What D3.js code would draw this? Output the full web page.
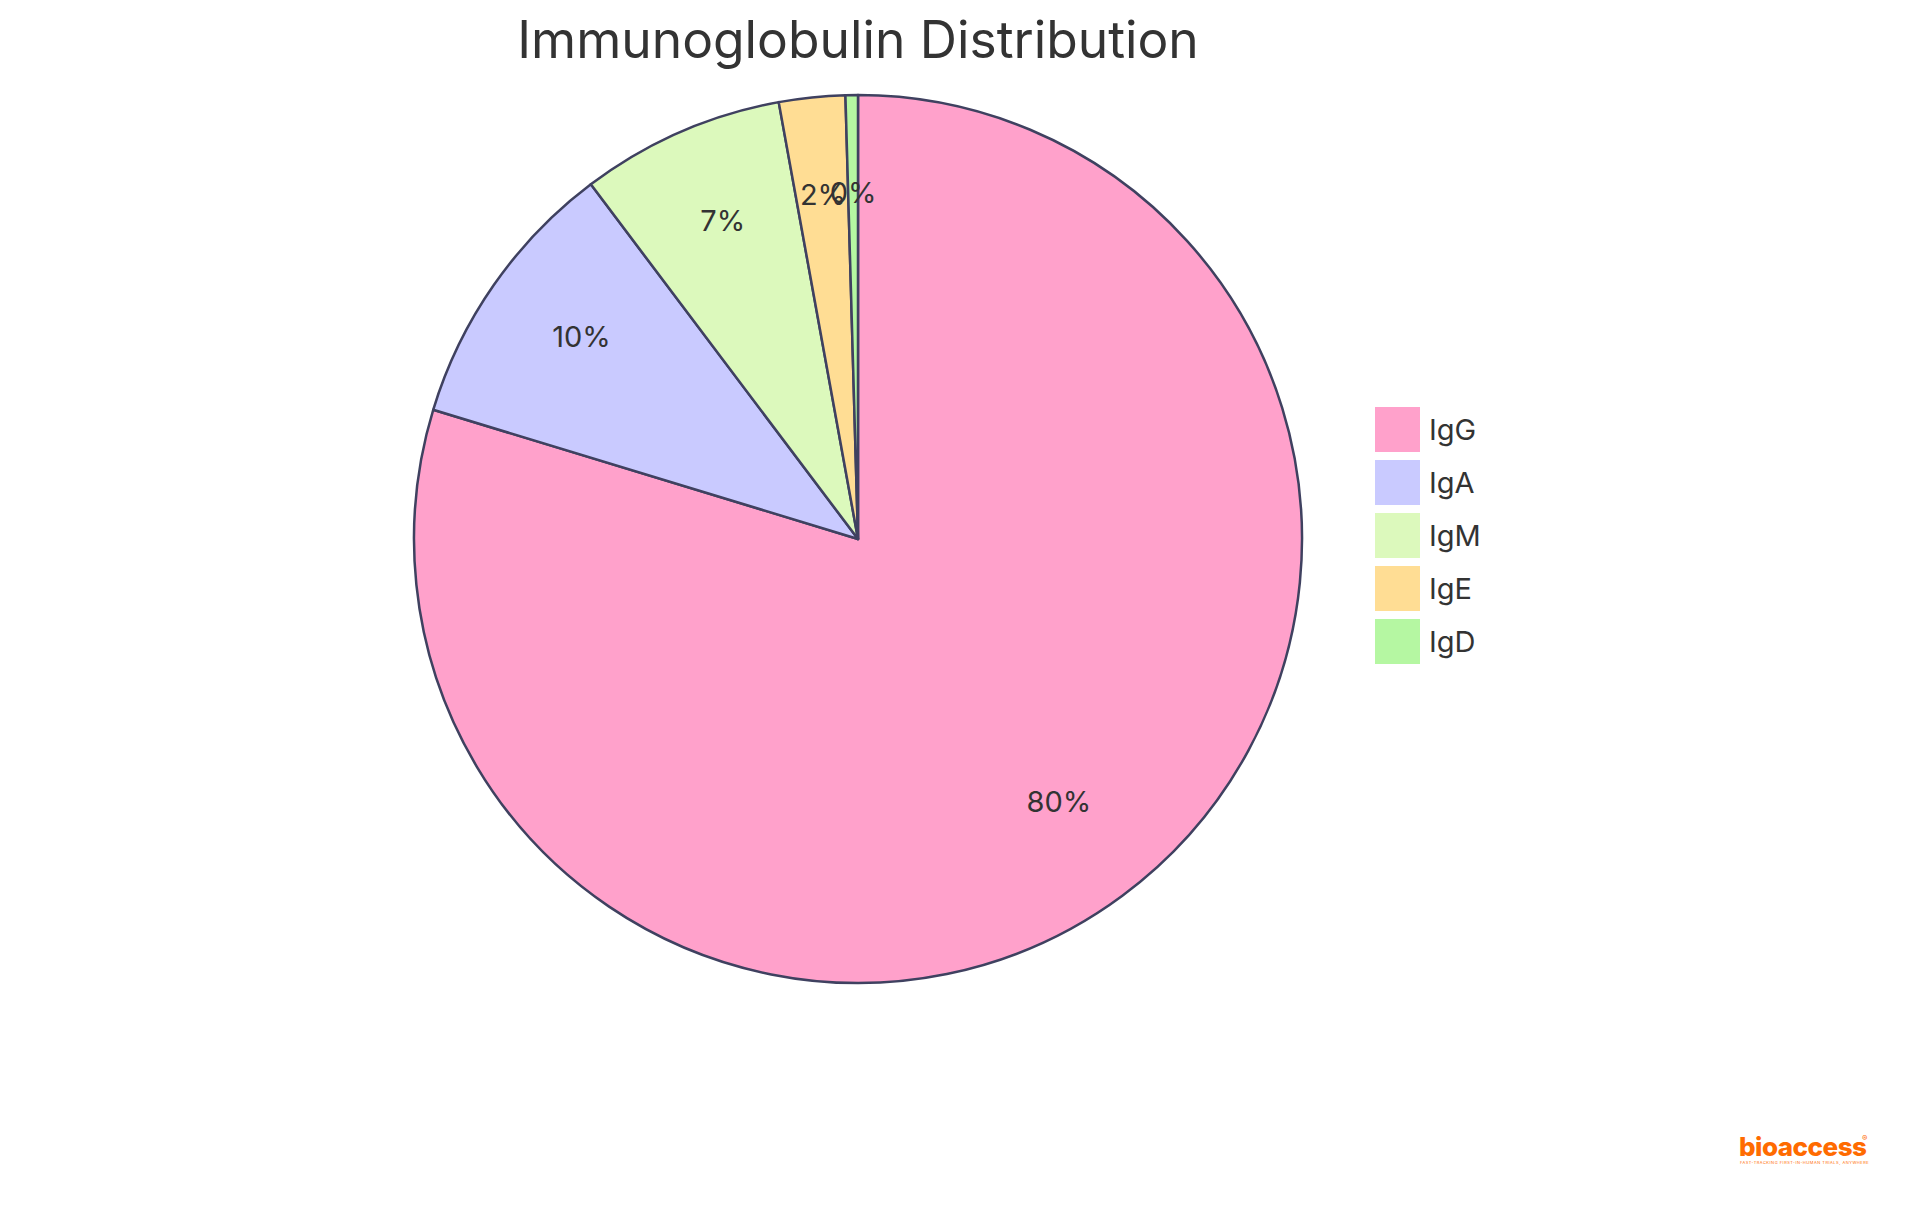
<!DOCTYPE html>
<html>
<head>
<meta charset="utf-8">
<script src="https://cdn.jsdelivr.net/npm/d3@7"></script>
<style>
  body { margin: 0; background: #fff; }
  text { font-family: Inter, "Open Sans", sans-serif; }
</style>
</head>
<body>
<div id="wrapper"></div>
<script>
const categories = ["IgG", "IgA", "IgM", "IgE", "IgD"];
const values = [79.5, 10, 7.4, 2.4, 0.45];
const colors = ["#FFA1CB", "#C9CAFF", "#DCF9BC", "#FFDD94", "#B5F7A2"];

const width = 1920, height = 1215;
const cx = 858, cy = 539, radius = 444;

const svg = d3.select("#wrapper").append("svg")
    .attr("width", width)
    .attr("height", height);

svg.append("text")
    .attr("x", cx)
    .attr("y", 58)
    .attr("text-anchor", "middle")
    .attr("font-size", 51.5)
    .attr("fill", "#333")
    .text("Immunoglobulin Distribution");

const data = categories.map((c, i) => ({ name: c, value: values[i], color: colors[i] }));
const total = d3.sum(values);

const pie = d3.pie().sort(null).value(d => d.value);
const arcs = pie(data);
const arc = d3.arc().innerRadius(0).outerRadius(radius);
const labelArc = d3.arc().innerRadius(radius * 0.76).outerRadius(radius * 0.76);

const g = svg.append("g").attr("transform", `translate(${cx},${cy})`);

g.selectAll("path")
    .data(arcs)
    .enter()
    .append("path")
    .attr("d", arc)
    .attr("fill", d => d.data.color)
    .attr("stroke", "#3f4160")
    .attr("stroke-width", 2.5)
    .attr("stroke-linejoin", "round");

const fmt = d3.format(".0%");
g.selectAll(".lbl")
    .data(arcs)
    .enter()
    .append("text")
    .attr("class", "lbl")
    .attr("transform", d => `translate(${labelArc.centroid(d)})`)
    .attr("text-anchor", "middle")
    .attr("dy", "0.05em")
    .attr("font-size", 29)
    .attr("fill", "#333")
    .text(d => fmt(d.data.value / total));

const legend = svg.append("g").attr("transform", "translate(1375,407)");
const rows = legend.selectAll("g")
    .data(data)
    .enter()
    .append("g")
    .attr("transform", (d, i) => `translate(0,${i * 53})`);
rows.append("rect")
    .attr("width", 45)
    .attr("height", 45)
    .attr("fill", d => d.color);
rows.append("text")
    .attr("x", 54)
    .attr("y", 23)
    .attr("dy", "0.35em")
    .attr("font-size", 29)
    .attr("fill", "#333")
    .text(d => d.name);

svg.append("text")
    .attr("x", 1739)
    .attr("y", 1156)
    .attr("font-size", 26)
    .attr("font-weight", 800)
    .attr("fill", "#FF6B00")
    .attr("letter-spacing", -0.5)
    .text("bioaccess");
svg.append("text")
    .attr("x", 1862)
    .attr("y", 1141)
    .attr("font-size", 8)
    .attr("fill", "#FF6B00")
    .text("®");
svg.append("text")
    .attr("x", 1740)
    .attr("y", 1164)
    .attr("font-size", 4)
    .attr("fill", "#FF6B00")
    .attr("letter-spacing", 0.5)
    .text("FAST-TRACKING FIRST-IN-HUMAN TRIALS, ANYWHERE");
</script>
</body>
</html>
